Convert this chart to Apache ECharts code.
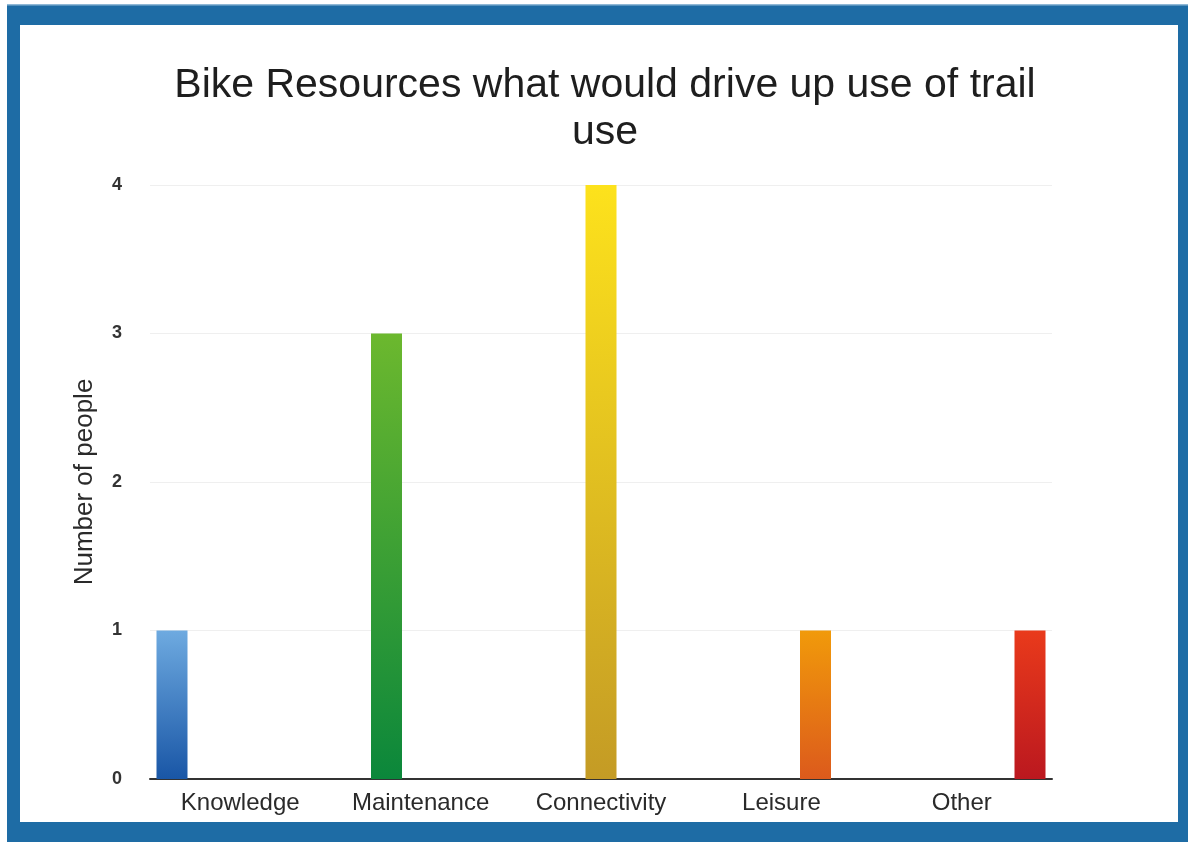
<!DOCTYPE html>
<html>
<head>
<meta charset="utf-8">
<script src="https://cdn.jsdelivr.net/npm/echarts@6/dist/echarts.min.js"></script>
<style>
  html, body { margin: 0; padding: 0; background: #ffffff; }
  #chart { width: 1188px; height: 842px; }
</style>
</head>
<body>
<div id="chart"></div>
<script>
// Survey answers: how many people picked each resource
const categories = ['Knowledge', 'Maintenance', 'Connectivity', 'Leisure', 'Other'];
const counts = [1, 3, 4, 1, 1];
const yTicks = [0, 1, 2, 3, 4];

// Top / bottom colours of each bar's vertical gradient
const gradTop = ['#6eaae0', '#6cb82e', '#fde21c', '#f19a0a', '#e93a1b'];
const gradBottom = ['#1956a6', '#0b873b', '#c49b25', '#dc5a1c', '#bb181f'];

const FONT = 'Liberation Sans, Arial, Helvetica, sans-serif';

const chart = echarts.init(document.getElementById('chart'), null, { renderer: 'canvas' });

// Each answer is its own series, so each bar sits in its own slot of the group
const series = categories.map((name, i) => ({
  name: name,
  type: 'bar',
  barWidth: 31,
  barGap: '10%',
  data: categories.map((_, j) => (j === i ? counts[i] : '-')),
  itemStyle: {
    color: new echarts.graphic.LinearGradient(0, 0, 0, 1, [
      { offset: 0, color: gradTop[i] },
      { offset: 1, color: gradBottom[i] }
    ])
  },
  emphasis: { disabled: true }
}));

chart.setOption({
  animation: false,
  backgroundColor: '#ffffff',
  graphic: [
    { type: 'rect', z: -10, shape: { x: 7, y: 4, width: 1181, height: 838 },
      style: { fill: '#1e6ca5' } },
    { type: 'rect', z: -10, shape: { x: 7, y: 4, width: 1181, height: 1.5 },
      style: { fill: '#8fb8d6' } },
    { type: 'rect', z: -9, shape: { x: 20, y: 25, width: 1158, height: 797 },
      style: { fill: '#ffffff' } }
  ],
  title: {
    text: 'Bike Resources what would drive up use of trail\nuse',
    left: 600,
    top: 57,
    textAlign: 'center',
    textStyle: {
      fontFamily: FONT,
      fontSize: 41,
      fontWeight: 'normal',
      color: '#1e1e1e',
      lineHeight: 47
    }
  },
  grid: { left: 150, right: 136, top: 185, bottom: 63, containLabel: false },
  xAxis: {
    type: 'category',
    data: categories,
    axisTick: { show: false },
    axisLine: { lineStyle: { color: '#333333', width: 2 } },
    axisLabel: {
      margin: 12,
      fontFamily: FONT,
      fontSize: 24,
      color: '#2a2a2a'
    }
  },
  yAxis: {
    type: 'value',
    min: yTicks[0],
    max: yTicks[yTicks.length - 1],
    interval: 1,
    name: 'Number of people',
    nameLocation: 'middle',
    nameGap: 52,
    nameTextStyle: {
      fontFamily: FONT,
      fontSize: 26,
      color: '#2a2a2a'
    },
    axisLine: { show: false },
    axisTick: { show: false },
    splitLine: { lineStyle: { color: '#efefef', width: 1 } },
    axisLabel: {
      margin: 28,
      fontFamily: FONT,
      fontSize: 18,
      fontWeight: 'bold',
      color: '#333333'
    }
  },
  series: series
});
</script>
</body>
</html>
